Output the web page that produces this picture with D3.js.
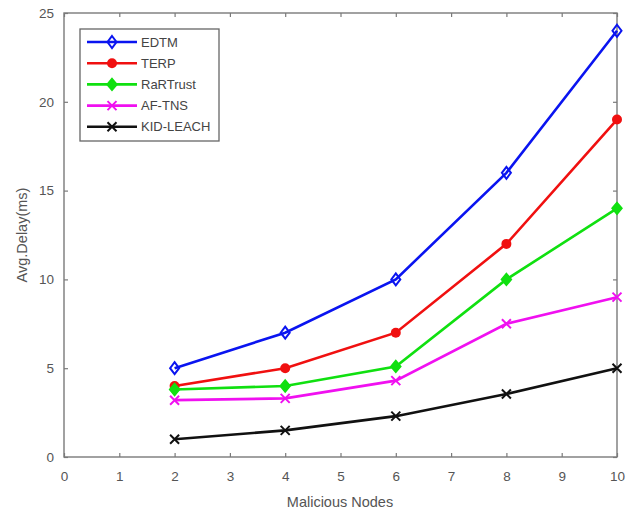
<!DOCTYPE html>
<html><head><meta charset="utf-8">
<script src="https://cdn.jsdelivr.net/npm/d3@7"></script>
<style>body{margin:0;background:#fff}svg{display:block}</style>
</head><body><svg id="c" width="626" height="512"></svg>
<script>
const nodes = [2, 4, 6, 8, 10];
const edtm = [5, 7, 10, 16, 24];
const terp = [4, 5, 7, 12, 19];
const rartrust = [3.8, 4, 5.1, 10, 14];
const aftns = [3.2, 3.3, 4.3, 7.5, 9];
const kidleach = [1, 1.5, 2.3, 3.55, 5];
const seriesNames = ["EDTM", "TERP", "RaRTrust", "AF-TNS", "KID-LEACH"];
const xTicks = [0,1,2,3,4,5,6,7,8,9,10];
const yTicks = [0,5,10,15,20,25];

const series = [
  {name: seriesNames[0], values: edtm, color: "#0a14f0", marker: "diamondOpen"},
  {name: seriesNames[1], values: terp, color: "#f01010", marker: "circleFilled"},
  {name: seriesNames[2], values: rartrust, color: "#10e010", marker: "diamondFilled"},
  {name: seriesNames[3], values: aftns, color: "#f010f0", marker: "x"},
  {name: seriesNames[4], values: kidleach, color: "#111111", marker: "x"}
];

const svg = d3.select("#c");
const L = 64, R = 617, T = 13, B = 457;
const x = d3.scaleLinear().domain([0,10]).range([L,R]);
const y = d3.scaleLinear().domain([0,25]).range([B,T]);
const axisColor = "#7a7a7a", textColor = "#555";
const font = "Arial, 'Liberation Sans', sans-serif";

svg.append("rect").attr("x",L).attr("y",T).attr("width",R-L).attr("height",B-T)
  .attr("fill","none").attr("stroke",axisColor).attr("stroke-width",1.4);

const gx = svg.append("g").attr("transform",`translate(0,${B})`)
  .call(d3.axisBottom(x).tickValues(xTicks).tickSize(-4).tickPadding(14).tickFormat(d3.format("d")));
const gxt = svg.append("g").attr("transform",`translate(0,${T})`)
  .call(d3.axisTop(x).tickValues(xTicks).tickSize(-4).tickFormat(""));
const gy = svg.append("g").attr("transform",`translate(${L},0)`)
  .call(d3.axisLeft(y).tickValues(yTicks).tickSize(-4).tickPadding(10).tickFormat(d3.format("d")));
const gyr = svg.append("g").attr("transform",`translate(${R},0)`)
  .call(d3.axisRight(y).tickValues(yTicks).tickSize(-4).tickFormat(""));
[gx,gxt,gy,gyr].forEach(g=>{
  g.select(".domain").remove();
  g.selectAll(".tick line").attr("stroke",axisColor).attr("stroke-width",1.2);
  g.selectAll("text").attr("fill",textColor).attr("font-family",font).attr("font-size",13.5);
});

svg.append("text").attr("x",340).attr("y",507).attr("text-anchor","middle")
  .attr("font-family",font).attr("font-size",14.5).attr("fill",textColor).text("Malicious Nodes");
svg.append("text").attr("transform","translate(27,235) rotate(-90)").attr("text-anchor","middle")
  .attr("font-family",font).attr("font-size",14.5).attr("fill",textColor).text("Avg.Delay(ms)");

function drawMarker(g, type, cx, cy, color){
  if(type==="diamondOpen"){
    g.append("path").attr("d",`M${cx},${cy-6}L${cx+4.5},${cy}L${cx},${cy+6}L${cx-4.5},${cy}Z`)
      .attr("fill","none").attr("stroke",color).attr("stroke-width",2);
  } else if(type==="diamondFilled"){
    g.append("path").attr("d",`M${cx},${cy-6}L${cx+5},${cy}L${cx},${cy+6}L${cx-5},${cy}Z`)
      .attr("fill",color).attr("stroke",color).attr("stroke-width",1.5);
  } else if(type==="circleFilled"){
    g.append("circle").attr("cx",cx).attr("cy",cy).attr("r",5).attr("fill",color);
  } else {
    const s=4.5;
    g.append("path").attr("d",`M${cx-s},${cy-s}L${cx+s},${cy+s}M${cx-s},${cy+s}L${cx+s},${cy-s}`)
      .attr("stroke",color).attr("stroke-width",2);
  }
}

const line = d3.line().x(d=>x(d[0])).y(d=>y(d[1]));
series.forEach(s=>{
  const pts = nodes.map((n,i)=>[n,s.values[i]]);
  const g = svg.append("g");
  g.append("path").attr("d",line(pts)).attr("fill","none").attr("stroke",s.color).attr("stroke-width",2.6);
  pts.forEach(p=>drawMarker(g,s.marker,x(p[0]),y(p[1]),s.color));
});

const lg = svg.append("g");
lg.append("rect").attr("x",80).attr("y",29).attr("width",139).attr("height",112)
  .attr("fill","#fff").attr("stroke","#666").attr("stroke-width",1.3);
series.forEach((s,i)=>{
  const yy = 42 + i*21.2;
  lg.append("line").attr("x1",87).attr("x2",137).attr("y1",yy).attr("y2",yy)
    .attr("stroke",s.color).attr("stroke-width",2.6);
  drawMarker(lg,s.marker,112,yy,s.color);
  lg.append("text").attr("x",141).attr("y",yy+4.5).attr("font-family",font).attr("font-size",13)
    .attr("fill","#444").text(s.name);
});
</script></body></html>
